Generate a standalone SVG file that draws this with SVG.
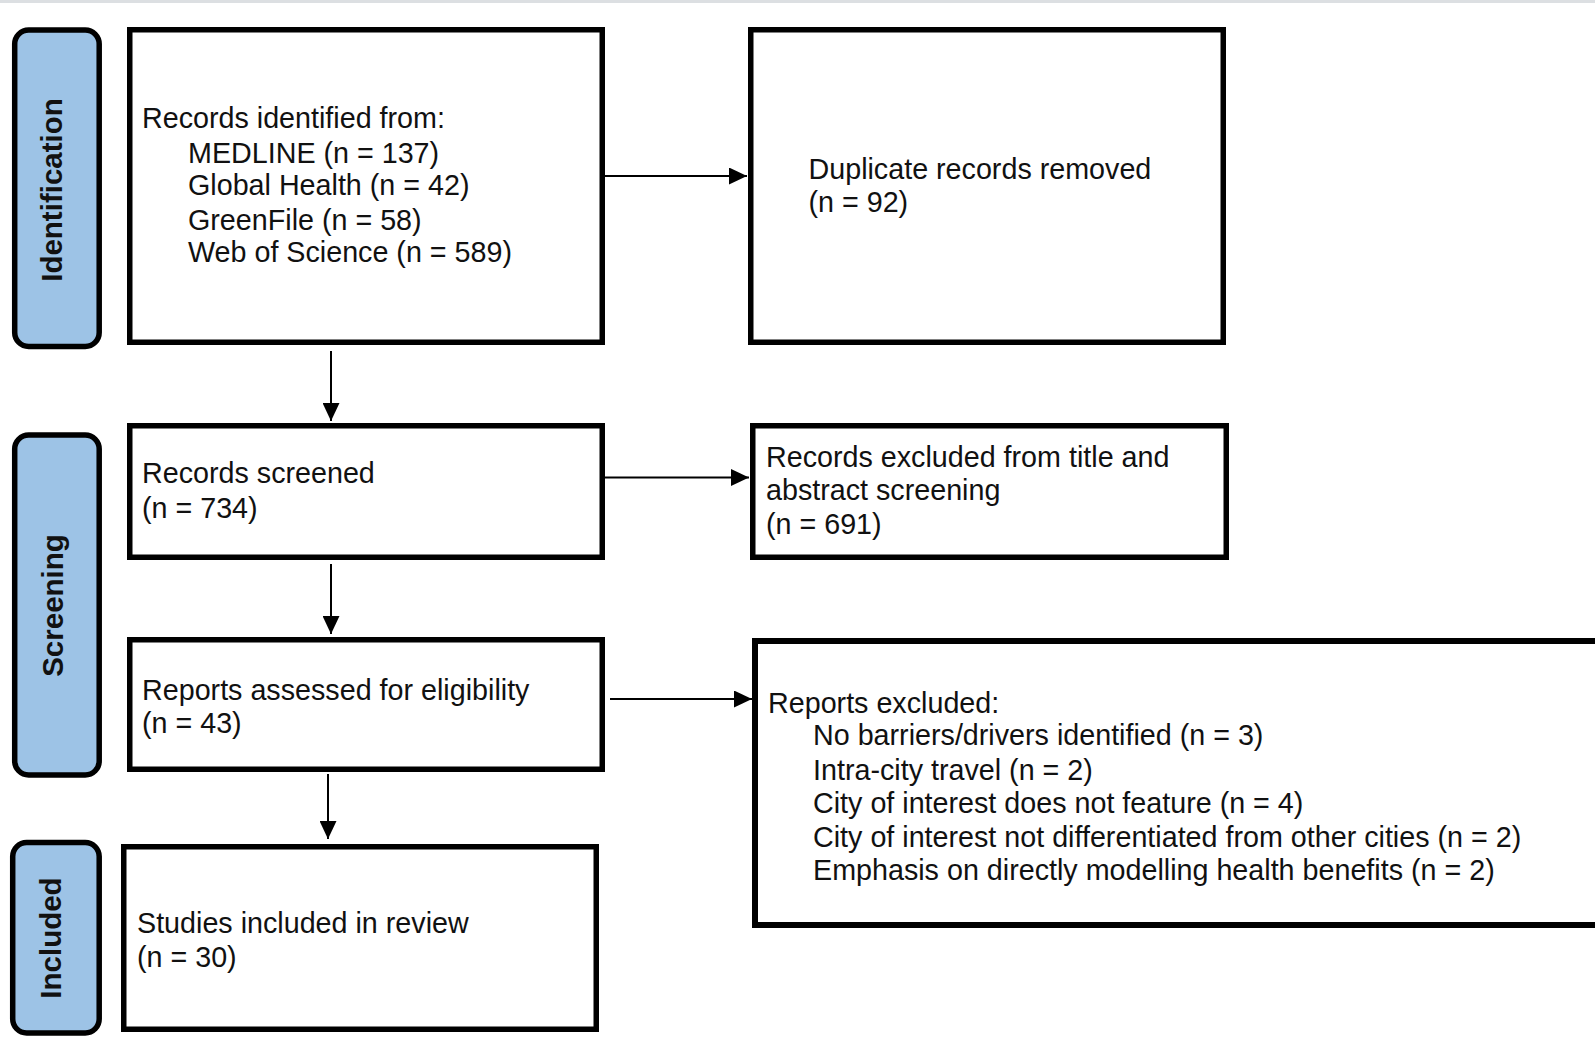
<svg xmlns="http://www.w3.org/2000/svg" width="1595" height="1053" viewBox="0 0 1595 1053">
<defs>
<style>
.box{fill:#fff;stroke:#000;stroke-width:5.5}
.pill{fill:#9DC3E6;stroke:#000;stroke-width:5.5}
.t{font-family:"Liberation Sans",Arial,sans-serif;font-size:28.7px;fill:#111}
.lab{font-family:"Liberation Sans",Arial,sans-serif;font-size:29.5px;font-weight:bold;fill:#111;text-anchor:middle}
.con{stroke:#000;stroke-width:2;fill:none}
</style>
<marker id="ah" viewBox="0 0 18 17" refX="18" refY="8.5" markerWidth="18" markerHeight="17" orient="auto" markerUnits="userSpaceOnUse">
<path d="M0,0 L18,8.5 L0,17 Z" fill="#000"/>
</marker>
</defs>
<rect x="0" y="0" width="1595" height="1053" fill="#fff"/>
<rect x="0" y="0" width="1595" height="3" fill="#dcdfe2"/>

<g id="stage-identification">
<rect class="pill" x="14.7" y="30" width="84.5" height="316.5" rx="14"/>
<text class="lab" transform="translate(62,190) rotate(-90)">Identification</text>
</g>
<g id="stage-screening">
<rect class="pill" x="14.7" y="435" width="84.5" height="340" rx="14"/>
<text class="lab" transform="translate(63,605.5) rotate(-90)">Screening</text>
</g>
<g id="stage-included">
<rect class="pill" x="12.7" y="842.5" width="86.5" height="190.5" rx="14"/>
<text class="lab" transform="translate(61,938) rotate(-90)">Included</text>
</g>

<g id="records-identified">
<rect class="box" x="129.75" y="29.75" width="472.5" height="312.5"/>
<text class="t" x="142" y="128">Records identified from:</text>
<text class="t" x="188" y="162.5">MEDLINE (n = 137)</text>
<text class="t" x="188" y="195">Global Health (n = 42)</text>
<text class="t" x="188" y="229.5">GreenFile (n = 58)</text>
<text class="t" x="188" y="261.5">Web of Science (n = 589)</text>
</g>
<g id="duplicates-removed">
<rect class="box" x="750.75" y="29.75" width="472.5" height="312.5"/>
<text class="t" x="808.5" y="179">Duplicate records removed</text>
<text class="t" x="808.5" y="212">(n = 92)</text>
</g>
<g id="records-screened">
<rect class="box" x="129.75" y="425.75" width="472.5" height="131.5"/>
<text class="t" x="142" y="483">Records screened</text>
<text class="t" x="142" y="518">(n = 734)</text>
</g>
<g id="records-excluded">
<rect class="box" x="752.75" y="425.75" width="473.5" height="131.5"/>
<text class="t" x="766" y="467">Records excluded from title and</text>
<text class="t" x="766" y="499.5">abstract screening</text>
<text class="t" x="766" y="534">(n = 691)</text>
</g>
<g id="reports-assessed">
<rect class="box" x="129.75" y="639.75" width="472.5" height="129.5"/>
<text class="t" x="142" y="700">Reports assessed for eligibility</text>
<text class="t" x="142" y="732.5">(n = 43)</text>
</g>
<g id="reports-excluded">
<rect class="box" x="755" y="641" width="880" height="284" style="stroke-width:6"/>
<text class="t" x="768" y="712.5">Reports excluded:</text>
<text class="t" x="813" y="745">No barriers/drivers identified (n = 3)</text>
<text class="t" x="813" y="779.5">Intra-city travel (n = 2)</text>
<text class="t" x="813" y="812.5">City of interest does not feature (n = 4)</text>
<text class="t" x="813" y="847">City of interest not differentiated from other cities (n = 2)</text>
<text class="t" x="813" y="879.5">Emphasis on directly modelling health benefits (n = 2)</text>
</g>
<g id="studies-included">
<rect class="box" x="123.75" y="846.75" width="472.5" height="182.5"/>
<text class="t" x="137" y="932.5">Studies included in review</text>
<text class="t" x="137" y="966.5">(n = 30)</text>
</g>

<g id="connectors">
<line class="con" x1="605" y1="176" x2="747" y2="176" marker-end="url(#ah)"/>
<line class="con" x1="605" y1="477.5" x2="749" y2="477.5" marker-end="url(#ah)"/>
<line class="con" x1="610" y1="699" x2="752" y2="699" marker-end="url(#ah)"/>
<line class="con" x1="331" y1="351" x2="331" y2="421" marker-end="url(#ah)"/>
<line class="con" x1="331" y1="564" x2="331" y2="634" marker-end="url(#ah)"/>
<line class="con" x1="328" y1="774" x2="328" y2="839" marker-end="url(#ah)"/>
</g>
</svg>
